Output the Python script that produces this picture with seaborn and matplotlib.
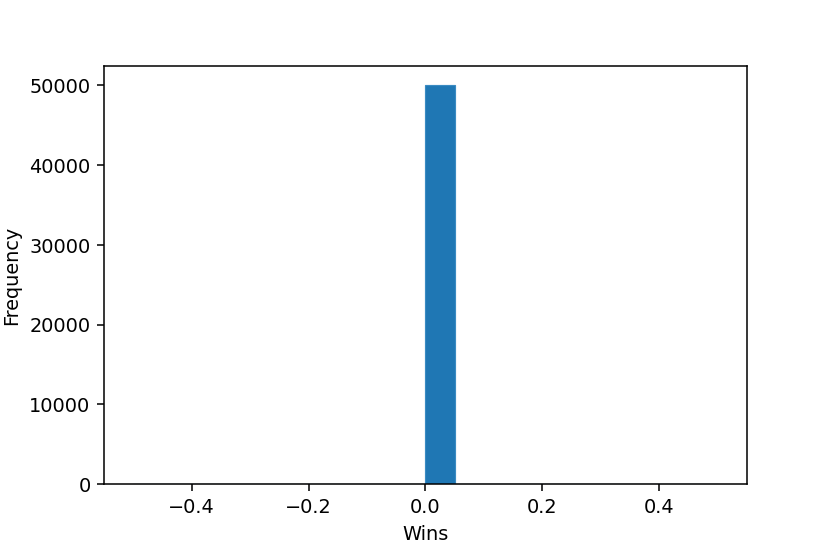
import matplotlib
matplotlib.use("Agg")
import matplotlib.pyplot as plt
import seaborn as sns
import numpy as np

# Histogram data: bin edges and counts (all games had 0 wins)
bin_edges = [-0.5, -0.45, -0.4, -0.35, -0.3, -0.25, -0.2, -0.15, -0.1, -0.05,
             0.0, 0.05, 0.1, 0.15, 0.2, 0.25, 0.3, 0.35, 0.4, 0.45, 0.5]
counts = [0, 0, 0, 0, 0, 0, 0, 0, 0, 0,
          50000, 0, 0, 0, 0, 0, 0, 0, 0, 0]
bin_centers = [(a + b) / 2 for a, b in zip(bin_edges[:-1], bin_edges[1:])]

sns.set_style("ticks")
plt.rcParams['font.family'] = ['DejaVu Sans']
plt.rcParams['text.color'] = 'black'
plt.rcParams['axes.labelcolor'] = 'black'
plt.rcParams['xtick.color'] = 'black'
plt.rcParams['ytick.color'] = 'black'

fig = plt.figure(figsize=(6, 4), dpi=138.33)
ax = fig.add_axes([0.1253, 0.1245, 0.9 - 0.1253, 0.881 - 0.1245])
sns.histplot(x=bin_centers, weights=counts, bins=bin_edges, ax=ax,
             color="#1f77b4", alpha=1.0, edgecolor="#3a8bc2", linewidth=0.6)
ax.set_xlim(-0.55, 0.55)
ax.set_ylim(0, 52500)
ax.set_xticks([-0.4, -0.2, 0.0, 0.2, 0.4])
ax.set_xticklabels(["\u22120.4", "\u22120.2", "0.0", "0.2", "0.4"])
ax.set_yticks([0, 10000, 20000, 30000, 40000, 50000])
ax.set_xlabel("Wins", fontsize=10, color="black")
ax.set_ylabel("Frequency", fontsize=10, color="black")
ax.tick_params(labelsize=10, width=0.8, length=3.5, color="black", labelcolor="black")
for s in ax.spines.values():
    s.set_visible(True)
    s.set_linewidth(0.8)
    s.set_color("black")
fig.savefig("out.png", dpi=138.33)
